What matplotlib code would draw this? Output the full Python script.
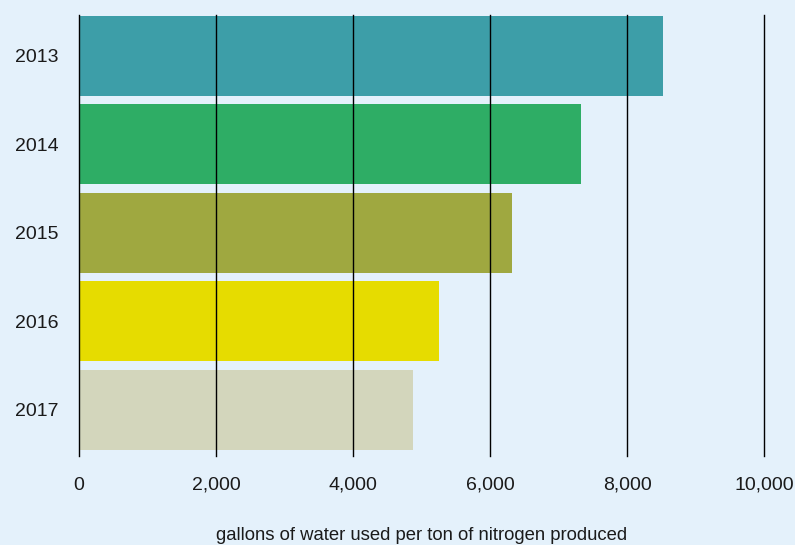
import matplotlib
matplotlib.use("Agg")
from matplotlib import pyplot as plt
from matplotlib.ticker import FuncFormatter

plt.rcParams['font.family'] = ['Liberation Sans Narrow', 'Liberation Sans', 'DejaVu Sans']

BG = "#e4f1fb"
FSIZE = 14

years = ["2013", "2014", "2015", "2016", "2017"]
gallons = [8525, 7330, 6320, 5255, 4875]
colors = ["#3d9ea8", "#2ead65", "#9fa840", "#e6dc00", "#d3d6bc"]
ticks = [0, 2000, 4000, 6000, 8000, 10000]

fig = plt.figure(figsize=(7.95, 5.45), dpi=100, facecolor=BG)
ax = fig.add_axes([79 / 795, 1 - 456 / 545, (764 - 79) / 795, (456 - 15) / 545])
ax.set_facecolor(BG)

pos = list(range(len(years)))
ax.barh(pos, gallons, height=0.905, color=colors, zorder=1)

ax.set_xlim(0, 10000)
ax.set_ylim(4.52, -0.46)
ax.set_xticks(ticks)
ax.xaxis.set_major_formatter(FuncFormatter(lambda v, p: f"{int(v):,}"))
ax.set_yticks(pos)
ax.set_yticklabels(years)
ax.grid(axis="x", color="black", linewidth=1, zorder=3)
for gl in ax.get_xgridlines():
    gl.set_clip_on(False)
ax.set_axisbelow(False)
for s in ax.spines.values():
    s.set_visible(False)
ax.tick_params(axis="both", length=0, labelsize=FSIZE, colors="#1a1a1a")
ax.tick_params(axis="x", pad=15)
ax.tick_params(axis="y", pad=15)
fig.text(422 / 795, 1 - 535 / 545, "gallons of water used per ton of nitrogen produced",
         fontsize=13.3, color="#1a1a1a", ha="center", va="center")

fig.savefig("out.png", dpi=100, facecolor=BG)
